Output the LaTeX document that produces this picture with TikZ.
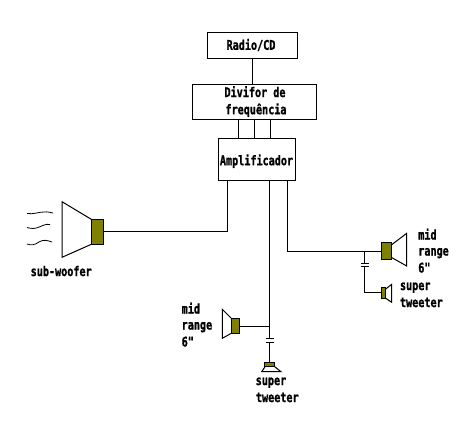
\documentclass[tikz,border=0pt]{standalone}
\usepackage{fontspec}
\newfontfamily\lbl[FakeStretch=0.76,FakeBold=1.2]{DejaVu Sans Mono Bold}
\newlength{\pxu}\setlength{\pxu}{0.75pt}
\definecolor{magnet}{HTML}{808000}
\tikzset{
  wire/.style={draw=black,line width=0.8pt},
  box/.style={draw=black,line width=0.8pt,fill=white,inner sep=0pt,outer sep=0pt,align=center},
  magnetbox/.style={draw=black,line width=0.8pt,fill=magnet,inner sep=0pt,outer sep=0pt},
  cone/.style={draw=black,line width=0.75pt,fill=white,line join=miter},
  txt/.style={inner sep=0pt,outer sep=0pt,font=\lbl\fontsize{10}{12}\selectfont},
  plate/.style={draw=black,line width=0.8pt},
  wave/.style={draw=black,line width=0.6pt}
}
\begin{document}
\begin{tikzpicture}[x=0.75pt,y=-0.75pt]
\path[use as bounding box,fill=white] (0,0) rectangle (475,430);
% boxes
\node[box,minimum width=90.4*\pxu,minimum height=25.6*\pxu] (radio) at (252.5,45.5) {};
\node[box,minimum width=124*\pxu,minimum height=35*\pxu] (div) at (254.7,101.8) {};
\node[box,minimum width=77.4*\pxu,minimum height=42.4*\pxu] (amp) at (257,159.5) {};
\node[txt,anchor=base] (tradio) at (251,49.8) {Radio/CD};
\node[txt,anchor=base] (tdiv1) at (255,97) {Divifor de};
\node[txt,anchor=base] (tdiv2) at (256,114.2) {frequência};
\node[txt,anchor=base] (tamp) at (256.5,165.2) {Amplificador};
% top wires
\draw[wire] (radio.south) -- (radio.south |- div.north);
\coordinate (w1) at (238.3,130);
\coordinate (w2) at (254.3,130);
\coordinate (w3) at (270.3,130);
\draw[wire] (w1 |- div.south) -- (w1 |- amp.north);
\draw[wire] (w2 |- div.south) -- (w2 |- amp.north);
\draw[wire] (w3 |- div.south) -- (w3 |- amp.north);
% sub-woofer
\coordinate (s1) at (91.3,219.3);
\coordinate (s2) at (62,201.7);
\coordinate (s3) at (62,257.3);
\coordinate (s4) at (91.3,244.3);
\draw[cone] (s1) -- (s2) -- (s3) -- (s4);
\node[magnetbox,minimum width=12.4*\pxu,minimum height=25*\pxu] (subm) at (97.5,231.8) {};
\coordinate (a1) at (227.7,231.3);
\draw[wire] (subm.east |- a1) -- (a1) -- (a1 |- amp.south);
\draw[wave] (27,213.5) .. controls (34,214.5) and (38,212) .. (44,212) .. controls (48,211.5) and (50,212.5) .. (53,213);
\draw[wave] (27,227.5) .. controls (31,228.5) and (34,229) .. (38,227.5) .. controls (42,226) and (46,223.5) .. (50,224.5);
\draw[wave] (27,244) .. controls (31,245.5) and (35,245) .. (39,242) .. controls (43,239.5) and (47,240) .. (52,242);
\node[txt,anchor=base] (tsub) at (61.2,276) {sub-woofer};
% right mid range
\coordinate (r1) at (287.3,251.3);
\coordinate (r2) at (364.3,251.3);
\coordinate (c1) at (391.3,245);
\coordinate (c2) at (406.7,233.3);
\coordinate (c3) at (406.7,266);
\coordinate (c4) at (391.3,257.3);
\draw[cone] (c1) -- (c2) -- (c3) -- (c4);
\node[magnetbox,minimum width=10*\pxu,minimum height=17*\pxu] (rm) at (386.3,250.8) {};
\draw[wire] (r1 |- amp.south) -- (r1) -- (rm.west |- r1);
\coordinate (p1) at (364.3,263.3);
\coordinate (p2) at (364.3,266.7);
\draw[wire] (r2) -- (p1);
\draw[plate] (361,263.3) -- (369,263.3);
\draw[plate] (361,266.7) -- (369,266.7);
\coordinate (q1) at (364.3,292.7);
\coordinate (d1) at (385.7,289);
\coordinate (d2) at (391.7,284.3);
\coordinate (d3) at (391.7,302.3);
\coordinate (d4) at (385.7,298.3);
\draw[cone] (d1) -- (d2) -- (d3) -- (d4);
\node[magnetbox,minimum width=4.6*\pxu,minimum height=10.7*\pxu] (rt) at (383.4,293.3) {};
\draw[wire] (p2) -- (q1) -- (rt.west |- q1);
\node[txt,anchor=base west] (tm1) at (418.3,239.5) {mid};
\node[txt,anchor=base west] (tm2) at (418.3,255.5) {range};
\node[txt,anchor=base west] (tm3) at (418.3,272.5) {6"};
\node[txt,anchor=base west] (ts1) at (400,290) {super};
\node[txt,anchor=base west] (ts2) at (400,307) {tweeter};
% bottom mid range
\coordinate (b0) at (269.3,326.3);
\coordinate (e1) at (231.3,318.3);
\coordinate (e2) at (222.3,309.3);
\coordinate (e3) at (222.3,338.3);
\coordinate (e4) at (231.3,333.3);
\draw[cone] (e1) -- (e2) -- (e3) -- (e4);
\node[magnetbox,minimum width=8.7*\pxu,minimum height=15*\pxu] (bm) at (235.6,325.8) {};
\draw[wire] (bm.east |- b0) -- (b0);
\coordinate (n1) at (269.3,338.3);
\coordinate (n2) at (269.3,342.3);
\draw[wire] (b0 |- amp.south) -- (n1);
\draw[plate] (265.5,338.3) -- (274,338.3);
\draw[plate] (265.5,342.3) -- (274,342.3);
\coordinate (f1) at (265,366.7);
\coordinate (f2) at (261.7,371.7);
\coordinate (f3) at (281,371.7);
\coordinate (f4) at (274.7,366.7);
\draw[cone] (f1) -- (f2) -- (f3) -- (f4);
\node[magnetbox,minimum width=9.7*\pxu,minimum height=4.4*\pxu] (bt) at (269.8,364.5) {};
\draw[wire] (n2) -- (n2 |- bt.north);
\node[txt,anchor=base west] (tb1) at (181.7,313.5) {mid};
\node[txt,anchor=base west] (tb2) at (181.7,329.5) {range};
\node[txt,anchor=base west] (tb3) at (181.7,346.5) {6"};
\node[txt,anchor=base] (tb4) at (271,385) {super};
\node[txt,anchor=base] (tb5) at (277.3,402) {tweeter};
\end{tikzpicture}
\end{document}
